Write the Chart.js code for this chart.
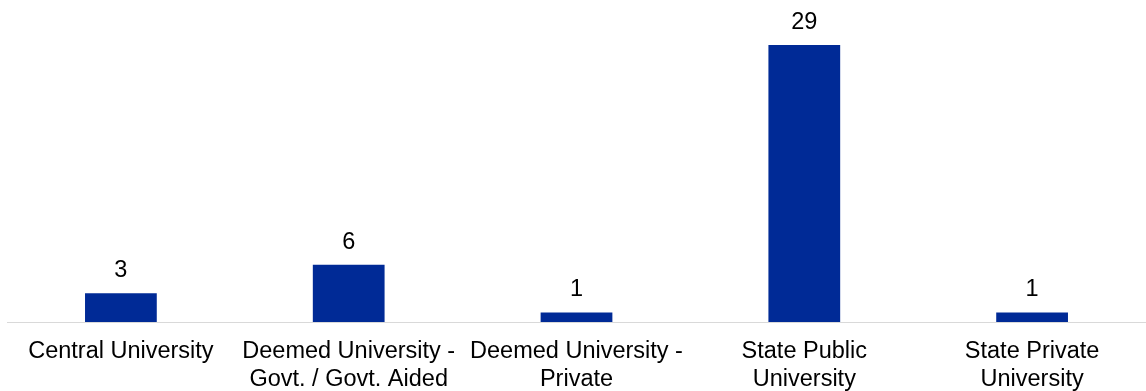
<!DOCTYPE html>
<html>
<head>
<meta charset="utf-8">
<script src="https://cdn.jsdelivr.net/npm/chart.js@4"></script>
<style>
  html, body { margin: 0; padding: 0; background: #fff; }
  #wrap { width: 1146px; height: 391px; }
</style>
</head>
<body>
<div id="wrap"><canvas id="uniChart"></canvas></div>
<script>
// data
const categories = [
    'Central University',
    ['Deemed University -', 'Govt. / Govt. Aided'],
    ['Deemed University -', 'Private'],
    ['State Public', 'University'],
    ['State Private', 'University']
];
const counts = [3, 6, 1, 29, 1];

const FONT = '"Liberation Sans", Arial, sans-serif';

// draws the value above each bar
const valueLabels = {
    id: 'valueLabels',
    afterDatasetsDraw(chart) {
        const ctx = chart.ctx;
        const meta = chart.getDatasetMeta(0);
        ctx.save();
        ctx.font = '23.5px ' + FONT;
        ctx.fillStyle = '#000';
        ctx.textAlign = 'center';
        ctx.textBaseline = 'alphabetic';
        meta.data.forEach(function(bar, i) {
            ctx.fillText(String(counts[i]), bar.x, bar.y - 16);
        });
        ctx.restore();
    }
};

new Chart(document.getElementById('uniChart').getContext('2d'), {
    type: 'bar',
    data: {
        labels: categories,
        datasets: [{ data: counts, backgroundColor: '#002A96', barPercentage: 0.63, categoryPercentage: 0.5 }]
    },
    options: {
        responsive: true, maintainAspectRatio: false, animation: false,
        layout: { padding: { left: 7, right: 0, top: 0, bottom: 0 } },
        plugins: { legend: { display: false }, tooltip: { enabled: false } },
        scales: {
            x: {
                grid: { display: false },
                border: { color: '#d9d9d9', width: 1 },
                ticks: { color: '#000', padding: 8, maxRotation: 0, autoSkip: false,
                         font: { family: FONT, size: 23.5, lineHeight: 1.19 } },
                afterFit: function(scale) { scale.height = 69; }
            },
            y: { display: false, min: 0, max: 33.7 }
        }
    },
    plugins: [valueLabels]
});
</script>
</body>
</html>
